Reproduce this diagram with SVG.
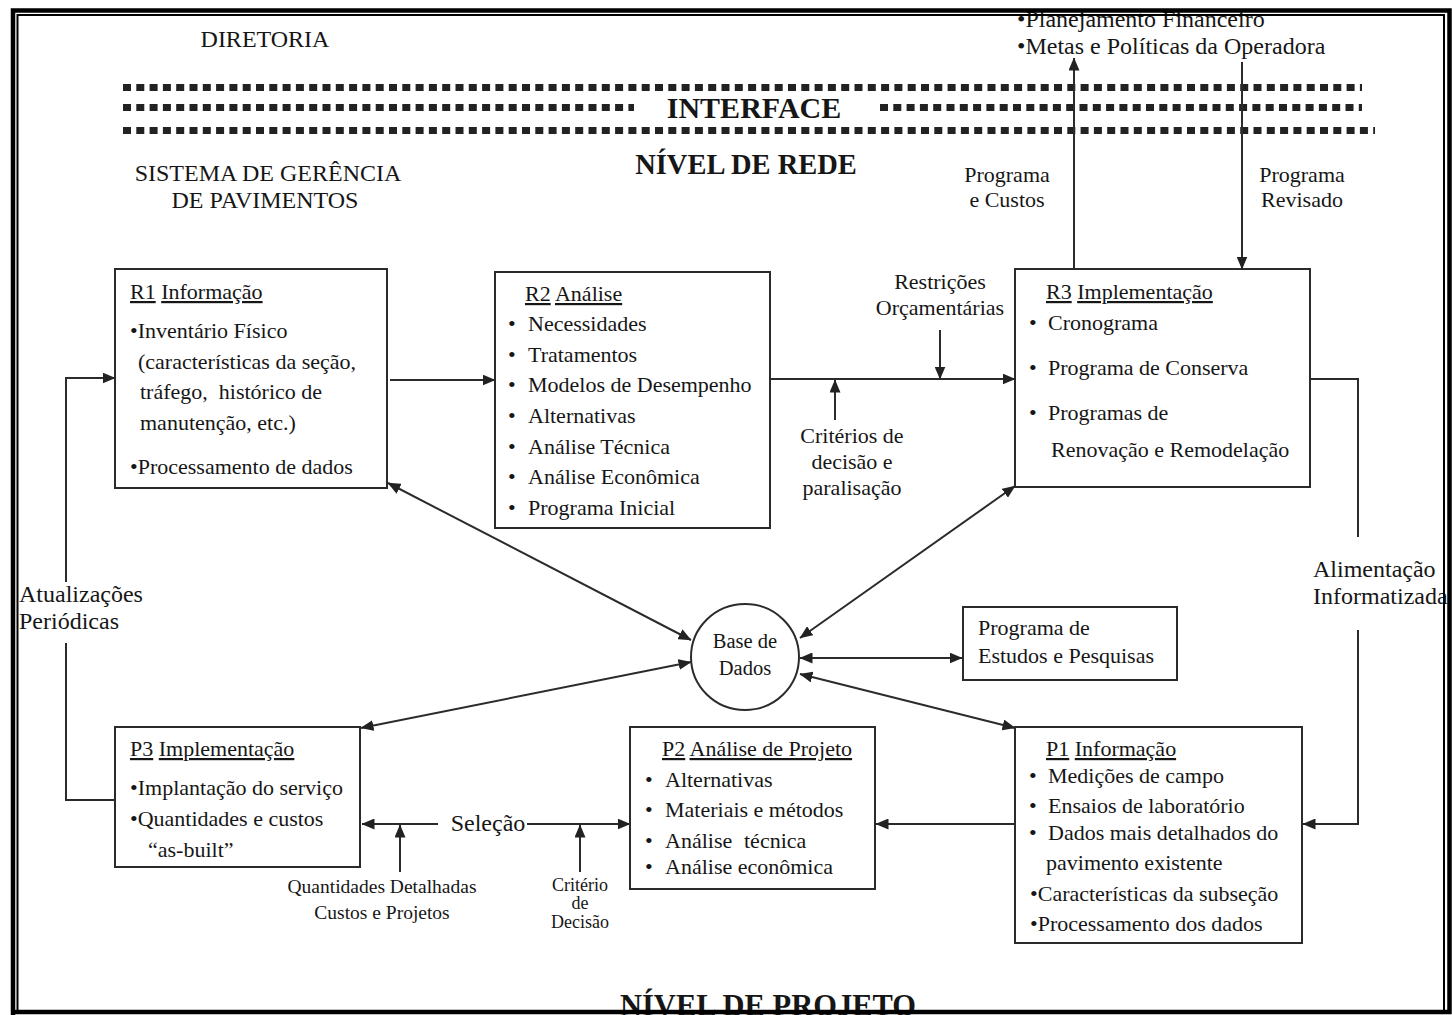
<svg xmlns="http://www.w3.org/2000/svg" width="1452" height="1015" viewBox="0 0 1452 1015">
  <style>
    .t { font-family: "Liberation Serif", "Times New Roman", serif; font-size: 22px; fill: #161616; }
    .lg { font-size: 24px; }
    .sm { font-size: 19.5px; }
    .xs { font-size: 18px; }
    .hb { font-weight: bold; }
    .u { text-decoration: underline; }
    .mid { text-anchor: middle; }
    .box { fill: #ffffff; stroke: #2b2b2b; stroke-width: 2; }
    .ln { fill: none; stroke: #2b2b2b; stroke-width: 2; }
    .arr { marker-end: url(#ah); }
    .dbl { marker-start: url(#ah); marker-end: url(#ah); }
    .dots { stroke: #222222; stroke-width: 7; stroke-dasharray: 8 5.3; }
    .frame { fill: none; stroke: #000000; }
  </style>
  <defs>
    <marker id="ah" viewBox="0 0 13 11" refX="12.5" refY="5.5" markerWidth="13" markerHeight="11" markerUnits="userSpaceOnUse" orient="auto-start-reverse">
      <path d="M0,0 L13,5.5 L0,11 z" fill="#222222"/>
    </marker>
  </defs>

  <rect x="0" y="0" width="1452" height="1015" fill="#ffffff"/>

  <!-- upper level headings -->
  <g id="headings">
    <text class="t lg mid" x="265" y="47">DIRETORIA</text>
    <text class="t lg mid" x="268" y="181">SISTEMA DE GERÊNCIA</text>
    <text class="t lg mid" x="265" y="208">DE PAVIMENTOS</text>
    <text class="t hb mid" x="754" y="118" style="font-size:30px">INTERFACE</text>
    <text class="t hb mid" x="746" y="174" style="font-size:28.5px">NÍVEL DE REDE</text>
    <text class="t hb mid" x="768" y="1016" style="font-size:30.5px">NÍVEL DE PROJETO</text>
    <text class="t lg" x="1017" y="27">•Planejamento Financeiro</text>
    <text class="t lg" x="1017" y="54">•Metas e Políticas da Operadora</text>
  </g>

  <!-- interface band -->
  <g id="interface">
    <line class="dots" x1="123" y1="87.5" x2="1362" y2="87.5"/>
    <line class="dots" x1="123" y1="107.5" x2="634" y2="107.5"/>
    <line class="dots" x1="880" y1="107.5" x2="1362" y2="107.5"/>
    <line class="dots" x1="123" y1="130.5" x2="1375" y2="130.5"/>
  </g>

  <!-- connectors -->
  <g id="connectors">
    <!-- network level flow -->
    <line class="ln arr" x1="390" y1="380" x2="495" y2="380"/>
    <line class="ln arr" x1="770" y1="379" x2="1015" y2="379"/>
    <line class="ln arr" x1="940" y1="330" x2="940" y2="379"/>
    <line class="ln arr" x1="835" y1="420" x2="835" y2="380"/>
    <line class="ln arr" x1="1074" y1="269" x2="1074" y2="58"/>
    <line class="ln arr" x1="1242" y1="62" x2="1242" y2="269"/>
    <!-- feed from R3 to P1 -->
    <polyline class="ln" points="1311,379 1358,379 1358,537"/>
    <polyline class="ln arr" points="1358,630 1358,824 1303,824"/>
    <!-- periodic updates from P3 to R1 -->
    <polyline class="ln" points="115,800 66,800 66,643"/>
    <polyline class="ln arr" points="66,582 66,378 115,378"/>
    <!-- database links -->
    <line class="ln dbl" x1="388" y1="483" x2="691" y2="640"/>
    <line class="ln dbl" x1="1015" y1="486" x2="800" y2="638"/>
    <line class="ln dbl" x1="691" y1="662" x2="361" y2="728"/>
    <line class="ln dbl" x1="800" y1="658" x2="962" y2="658"/>
    <line class="ln dbl" x1="800" y1="674" x2="1015" y2="728"/>
    <!-- project level flow -->
    <line class="ln arr" x1="438" y1="824" x2="362" y2="824"/>
    <line class="ln arr" x1="527" y1="824" x2="630" y2="824"/>
    <line class="ln arr" x1="400" y1="872" x2="400" y2="825"/>
    <line class="ln arr" x1="580" y1="872" x2="580" y2="825"/>
    <line class="ln arr" x1="1015" y1="824" x2="876" y2="824"/>
  </g>

  <!-- connector labels -->
  <g id="labels">
    <text class="t mid" x="1007" y="182">Programa</text>
    <text class="t mid" x="1007" y="207">e Custos</text>
    <text class="t mid" x="1302" y="182">Programa</text>
    <text class="t mid" x="1302" y="207">Revisado</text>
    <text class="t mid" x="940" y="289">Restrições</text>
    <text class="t mid" x="940" y="315">Orçamentárias</text>
    <text class="t mid" x="852" y="443">Critérios de</text>
    <text class="t mid" x="852" y="469">decisão e</text>
    <text class="t mid" x="852" y="495">paralisação</text>
    <text class="t lg" x="1313" y="577">Alimentação</text>
    <text class="t lg" x="1313" y="604">Informatizada</text>
    <text class="t lg" x="19" y="602">Atualizações</text>
    <text class="t lg" x="19" y="629">Periódicas</text>
    <text class="t lg mid" x="488" y="831">Seleção</text>
    <text class="t sm mid" x="382" y="893">Quantidades Detalhadas</text>
    <text class="t sm mid" x="382" y="919">Custos e Projetos</text>
    <text class="t xs mid" x="580" y="891">Critério</text>
    <text class="t xs mid" x="580" y="909">de</text>
    <text class="t xs mid" x="580" y="928">Decisão</text>
  </g>

  <!-- network level nodes -->
  <g id="r1">
    <rect class="box" x="115" y="269" width="272" height="219"/>
    <text class="t" x="130" y="299"><tspan class="u">R1</tspan> <tspan class="u">Informação</tspan></text>
    <text class="t" x="130" y="338">•Inventário Físico</text>
    <text class="t" x="138" y="369">(características da seção,</text>
    <text class="t" x="140" y="399" xml:space="preserve">tráfego,  histórico de</text>
    <text class="t" x="140" y="430">manutenção, etc.)</text>
    <text class="t" x="130" y="474">•Processamento de dados</text>
  </g>

  <g id="r2">
    <rect class="box" x="495" y="272" width="275" height="256"/>
    <text class="t" x="525" y="301"><tspan class="u">R2</tspan> <tspan class="u">Análise</tspan></text>
    <g class="t">
      <text x="508" y="331">•</text><text x="528" y="331">Necessidades</text>
      <text x="508" y="362">•</text><text x="528" y="362">Tratamentos</text>
      <text x="508" y="392">•</text><text x="528" y="392">Modelos de Desempenho</text>
      <text x="508" y="423">•</text><text x="528" y="423">Alternativas</text>
      <text x="508" y="454">•</text><text x="528" y="454">Análise Técnica</text>
      <text x="508" y="484">•</text><text x="528" y="484">Análise Econômica</text>
      <text x="508" y="515">•</text><text x="528" y="515">Programa Inicial</text>
    </g>
  </g>

  <g id="r3">
    <rect class="box" x="1015" y="269" width="295" height="218"/>
    <text class="t" x="1046" y="299"><tspan class="u">R3</tspan> <tspan class="u">Implementação</tspan></text>
    <g class="t">
      <text x="1029" y="330">•</text><text x="1048" y="330">Cronograma</text>
      <text x="1029" y="375">•</text><text x="1048" y="375">Programa de Conserva</text>
      <text x="1029" y="420">•</text><text x="1048" y="420">Programas de</text>
      <text x="1051" y="457">Renovação e Remodelação</text>
    </g>
  </g>

  <g id="database">
    <ellipse cx="745" cy="657" rx="54" ry="53" fill="#ffffff" stroke="#2b2b2b" stroke-width="2"/>
    <text class="t mid" x="745" y="648" style="font-size:20.5px">Base de</text>
    <text class="t mid" x="745" y="675" style="font-size:20.5px">Dados</text>
  </g>

  <g id="estudos">
    <rect class="box" x="963" y="607" width="214" height="73"/>
    <text class="t" x="978" y="635">Programa de</text>
    <text class="t" x="978" y="663">Estudos e Pesquisas</text>
  </g>

  <!-- project level nodes -->
  <g id="p3">
    <rect class="box" x="115" y="727" width="245" height="140"/>
    <text class="t" x="130" y="756"><tspan class="u">P3</tspan> <tspan class="u">Implementação</tspan></text>
    <text class="t" x="130" y="795">•Implantação do serviço</text>
    <text class="t" x="130" y="826">•Quantidades e custos</text>
    <text class="t" x="148" y="857">“as-built”</text>
  </g>

  <g id="p2">
    <rect class="box" x="630" y="727" width="245" height="162"/>
    <text class="t" x="662" y="756"><tspan class="u">P2</tspan> <tspan class="u">Análise de Projeto</tspan></text>
    <g class="t">
      <text x="645" y="787">•</text><text x="665" y="787">Alternativas</text>
      <text x="645" y="817">•</text><text x="665" y="817">Materiais e métodos</text>
      <text x="645" y="848">•</text><text x="665" y="848">Análise</text><text x="744" y="848">técnica</text>
      <text x="645" y="874">•</text><text x="665" y="874">Análise econômica</text>
    </g>
  </g>

  <g id="p1">
    <rect class="box" x="1015" y="727" width="287" height="216"/>
    <text class="t" x="1046" y="756"><tspan class="u">P1</tspan> <tspan class="u">Informação</tspan></text>
    <g class="t">
      <text x="1029" y="783">•</text><text x="1048" y="783">Medições de campo</text>
      <text x="1029" y="813">•</text><text x="1048" y="813">Ensaios de laboratório</text>
      <text x="1029" y="840">•</text><text x="1048" y="840">Dados mais detalhados do</text>
      <text x="1046" y="870">pavimento existente</text>
      <text x="1030" y="901">•Características da subseção</text>
      <text x="1030" y="931">•Processamento dos dados</text>
    </g>
  </g>

  <!-- double page frame -->
  <g id="frame">
    <polyline class="frame" stroke-width="4.5" points="13,1015 13,10.5 1449.5,10.5 1449.5,1012 13,1012"/>
    <polyline class="frame" stroke-width="2" points="17.5,1012 17.5,15 1444,15 1444,1012"/>
  </g>
</svg>
